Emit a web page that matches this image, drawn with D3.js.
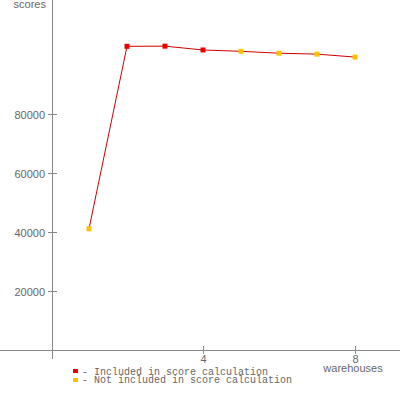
<!DOCTYPE html>
<html><head><meta charset="utf-8">
<script src="https://cdn.jsdelivr.net/npm/d3@7"></script>
<style>body{margin:0;background:#fff}svg{display:block}</style>
</head><body>
<script>
const warehouses = [1, 2, 3, 4, 5, 6, 7, 8];
const scores = [41100, 102950, 103000, 101700, 101250, 100600, 100300, 99300];
const included = [false, true, true, true, false, false, false, false];
const yTicks = [20000, 40000, 60000, 80000];
const xTicks = [4, 8];
const legendLabels = ["- Included in score calculation", "- Not included in score calculation"];

const W = 400, H = 400;
const svg = d3.select("body").append("svg").attr("width", W).attr("height", H);
const x = d3.scaleLinear().domain([0, 9.184]).range([51, 400]);
const y = d3.scaleLinear().domain([0, 118644]).range([350, 0]);
const axisCol = "#888", textCol = "#666";
const font = "'Liberation Sans', Arial, sans-serif";

// axes lines
svg.append("line").attr("x1", 0).attr("x2", 400).attr("y1", 350.5).attr("y2", 350.5).attr("stroke", axisCol);
svg.append("line").attr("x1", 52.5).attr("x2", 52.5).attr("y1", 0).attr("y2", 359).attr("stroke", axisCol);

// y ticks
const yg = svg.append("g");
yTicks.forEach(v => {
  const yy = Math.round(y(v)) + 0.5;
  yg.append("line").attr("x1", 48).attr("x2", 57).attr("y1", yy).attr("y2", yy).attr("stroke", axisCol);
  yg.append("text").attr("x", 45).attr("y", yy + 4).attr("text-anchor", "end")
    .attr("font-family", font).attr("font-size", 11).attr("fill", textCol).text(v);
});
// x ticks
xTicks.forEach(v => {
  const xx = Math.round(x(v)) + 0.5;
  svg.append("line").attr("x1", xx).attr("x2", xx).attr("y1", 346).attr("y2", 354).attr("stroke", axisCol);
  svg.append("text").attr("x", xx).attr("y", 363).attr("text-anchor", "middle")
    .attr("font-family", font).attr("font-size", 11).attr("fill", textCol).text(v);
});
svg.append("text").attr("x", 46).attr("y", 8).attr("text-anchor", "end")
  .attr("font-family", font).attr("font-size", 11).attr("fill", textCol).text("scores");
svg.append("text").attr("x", 353).attr("y", 372).attr("text-anchor", "middle")
  .attr("font-family", font).attr("font-size", 11).attr("fill", textCol).text("warehouses");

// line
const data = warehouses.map((w, i) => ({w, s: scores[i], inc: included[i]}));
svg.append("path").datum(data)
  .attr("d", d3.line().x(d => x(d.w)).y(d => y(d.s)))
  .attr("fill", "none").attr("stroke", "#d00000").attr("stroke-width", 1);
svg.selectAll("rect.pt").data(data).enter().append("rect").attr("class", "pt")
  .attr("x", d => x(d.w) - 2.5).attr("y", d => y(d.s) - 2.5).attr("width", 5).attr("height", 5)
  .attr("fill", d => d.inc ? "#e80000" : "#ffc000");

// legend
const legCols = ["#e80000", "#ffc000"];
legendLabels.forEach((t, i) => {
  svg.append("rect").attr("x", 73).attr("y", 369 + i * 9).attr("width", 5).attr("height", 4).attr("fill", legCols[i]);
  svg.append("text").attr("x", 82).attr("y", 375 + i * 8)
    .attr("font-family", "'Liberation Mono', 'DejaVu Sans Mono', monospace").attr("font-size", 10)
    .attr("fill", textCol).text(t);
});
</script>
</body></html>
